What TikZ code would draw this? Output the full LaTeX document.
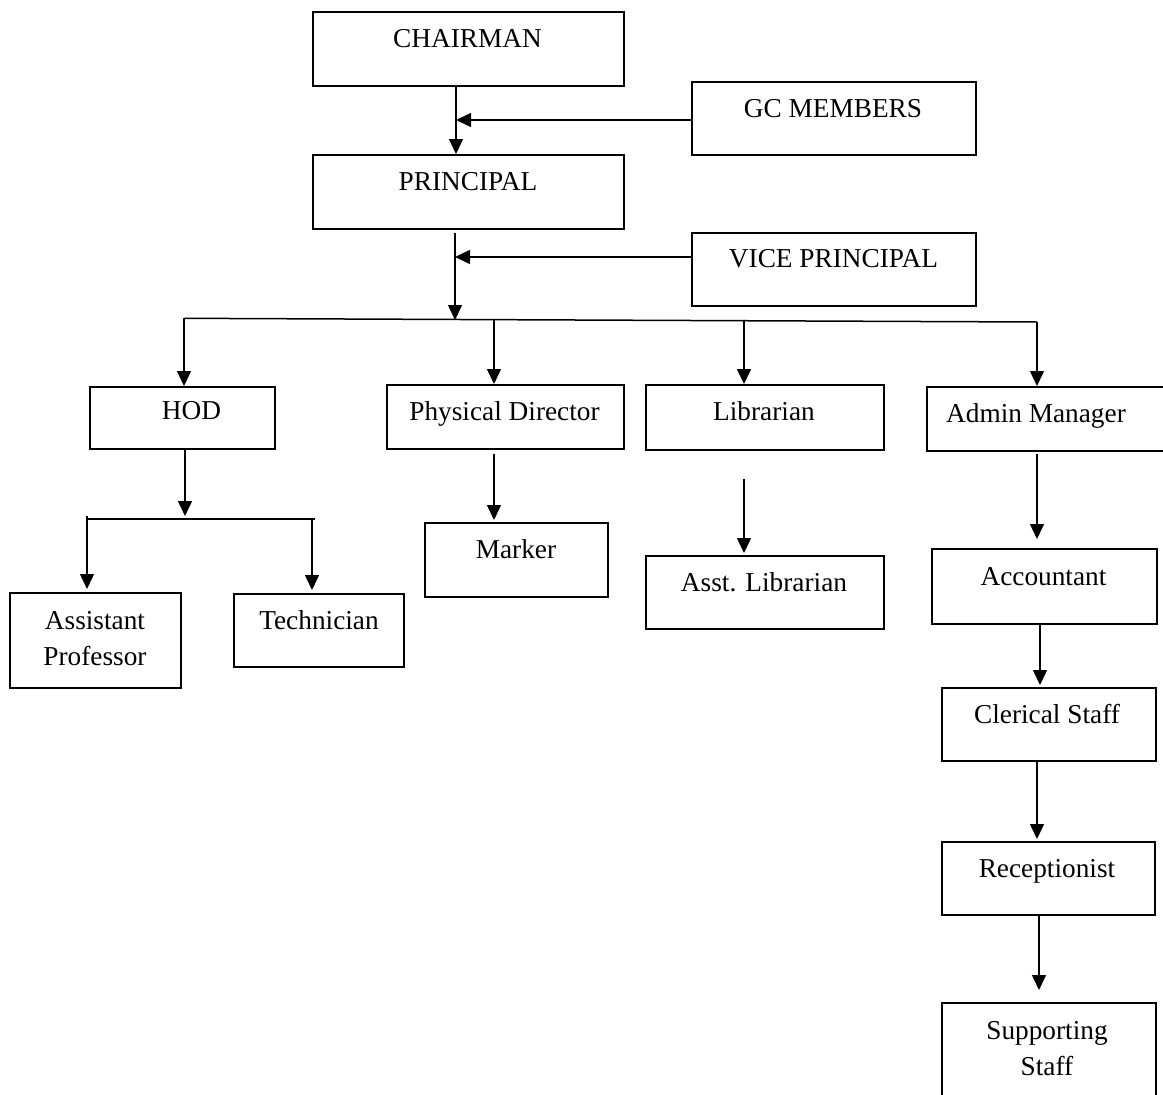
\documentclass[tikz,border=0pt]{standalone}
\usepackage{fontspec}
\setmainfont{Liberation Serif}
\usetikzlibrary{arrows.meta}
\tikzset{
  orgbox/.style={draw, line width=1.6pt, rectangle, inner sep=0pt, anchor=north west},
  lbl/.style={anchor=base, inner sep=0pt, font=\fontsize{27.3}{36}\selectfont},
  conn/.style={line width=1.5pt},
  arr/.style={conn, -{Triangle[length=15pt,width=14pt]}},
}
\begin{document}
\begin{tikzpicture}[x=1pt,y=-1pt]
\useasboundingbox (0,0) rectangle (1163,1095);
\clip (0,0) rectangle (1163,1095);
% boxes
\node[orgbox, minimum width=311, minimum height=74] (chair) at (312,11) {};
\node[orgbox, minimum width=284, minimum height=73] (gc) at (691,81) {};
\node[orgbox, minimum width=311, minimum height=74] (prin) at (312,154) {};
\node[orgbox, minimum width=284, minimum height=73] (vp) at (691,232) {};
\node[orgbox, minimum width=185, minimum height=62] (hod) at (89,386) {};
\node[orgbox, minimum width=237, minimum height=64] (phys) at (386,384) {};
\node[orgbox, minimum width=238, minimum height=65] (lib) at (645,384) {};
\node[orgbox, minimum width=250, minimum height=64] (admin) at (926,386) {};
\node[orgbox, minimum width=183, minimum height=74] (marker) at (424,522) {};
\node[orgbox, minimum width=238, minimum height=73] (astlib) at (645,555) {};
\node[orgbox, minimum width=171, minimum height=95] (asst) at (9,592) {};
\node[orgbox, minimum width=170, minimum height=73] (tech) at (233,593) {};
\node[orgbox, minimum width=225, minimum height=75] (acct) at (931,548) {};
\node[orgbox, minimum width=214, minimum height=73] (cler) at (941,687) {};
\node[orgbox, minimum width=213, minimum height=73] (recep) at (941,841) {};
\node[orgbox, minimum width=214, minimum height=110] (supp) at (941,1002) {};
% labels
\node[lbl] (tchair) at (467.5,47) {CHAIRMAN};
\node[lbl] (tgc) at (833,117) {GC MEMBERS};
\node[lbl] (tprin) at (468,190) {PRINCIPAL};
\node[lbl] (tvp) at (833.5,267) {VICE PRINCIPAL};
\node[lbl] (thod) at (191.5,419) {HOD};
\node[lbl] (tphys) at (504.5,420) {Physical Director};
\node[lbl] (tlib) at (764,420) {Librarian};
\node[lbl] (tadmin) at (1036,422) {Admin Manager};
\node[lbl] (tmarker) at (516,558) {Marker};
\node[lbl] (tastlib) at (764,591) {Asst. Librarian};
\node[lbl] (tasst1) at (95,629) {Assistant};
\node[lbl] (tasst2) at (95,665) {Professor};
\node[lbl] (ttech) at (319,629) {Technician};
\node[lbl] (tacct) at (1043.5,585) {Accountant};
\node[lbl] (tcler) at (1047,723) {Clerical Staff};
\node[lbl] (trecep) at (1047,877) {Receptionist};
\node[lbl] (tsupp1) at (1047,1039) {Supporting};
\node[lbl] (tsupp2) at (1047,1075) {Staff};
% junction coordinates
\coordinate (mainA) at (456,120);
\coordinate (mainB) at (455,257);
\coordinate (bA) at (455,320);
\coordinate (bL) at (184,318.3);
\coordinate (bP) at (494,319.6);
\coordinate (bLib) at (744,320.7);
\coordinate (bR) at (1037,322);
\coordinate (sA) at (185,516);
\coordinate (sL) at (86,519);
\coordinate (sR) at (315,519);
\coordinate (sLd) at (87,516);
\coordinate (sRd) at (312,520);
% connectors top
\draw[arr] (chair.south -| mainA) -- (prin.north -| mainA);
\draw[arr] (gc.west |- mainA) -- (mainA);
\draw[arr] (vp.west |- mainB) -- (mainB);
\draw[arr, shorten <=3pt] (prin.south -| mainB) -- (bA);
% main branch
\draw[conn] (bL) -- (bR);
\draw[arr] (bL) -- (hod.north -| bL);
\draw[arr] (bP) -- (phys.north -| bP);
\draw[arr] (bLib) -- (lib.north -| bLib);
\draw[arr] (bR) -- (admin.north -| bR);
% HOD subtree
\draw[arr] (hod.south -| sA) -- (sA);
\draw[conn] (sL) -- (sR);
\draw[arr, shorten >=3pt] (sLd) -- (asst.north -| sLd);
\draw[arr, shorten >=3pt] (sRd) -- (tech.north -| sRd);
% other subtrees
\draw[arr, shorten <=4pt, shorten >=2pt] (phys.south -| bP) -- (marker.north -| bP);
\draw[arr, shorten <=28pt, shorten >=2pt] (lib.south -| bLib) -- (astlib.north -| bLib);
\draw[arr, shorten <=2pt, shorten >=9pt] (admin.south -| bR) -- (acct.north -| bR);
\coordinate (cA) at (1040,623);
\coordinate (cB) at (1037,760);
\coordinate (cC) at (1039,914);
\draw[arr, shorten >=2pt] (acct.south -| cA) -- (cler.north -| cA);
\draw[arr, shorten >=2pt] (cler.south -| cB) -- (recep.north -| cB);
\draw[arr, shorten >=12pt] (recep.south -| cC) -- (supp.north -| cC);
\end{tikzpicture}
\end{document}
